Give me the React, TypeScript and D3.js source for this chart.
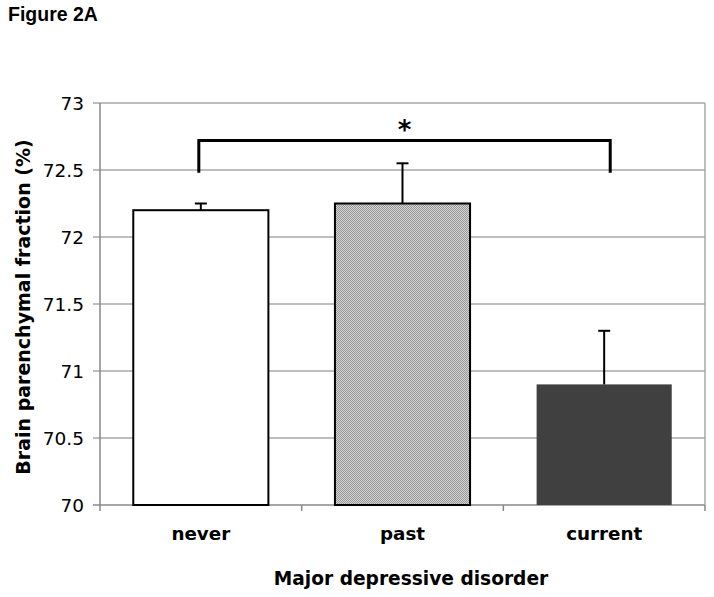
import React from "react";
import * as d3 from "d3";

const categories = ["never", "past", "current"];
const means = [72.2, 72.25, 70.9];
const errors = [0.05, 0.3, 0.4];
const yTicks = [70, 70.5, 71, 71.5, 72, 72.5, 73];
const fills = ["#ffffff", "url(#dither)", "#404040"];
const strokes = ["#000000", "#000000", "none"];
const bracket = { from: "never", to: "current", fromPos: 0.49, toPos: 0.53, top: 72.72, bottom: 72.48, label: "*" };

const W = 714;
const H = 597;
const left = 100;
const right = 705;
const top = 103;
const bottom = 505;

export default function App() {
  const x = d3.scaleBand<string>().domain(categories).range([left, right]).paddingInner(0.33).paddingOuter(0.165);
  const xb = d3.scaleBand<string>().domain(categories).range([left, right]);
  const y = d3.scaleLinear().domain([70, 73]).range([bottom, top]);
  const fmt = (v: number) => (Number.isInteger(v) ? String(v) : v.toFixed(1));
  const bx1 = xb(bracket.from)! + xb.bandwidth() * bracket.fromPos;
  const bx2 = xb(bracket.to)! + xb.bandwidth() * bracket.toPos;

  return (
    <svg width={W} height={H} style={{ position: "absolute", left: 0, top: 0, background: "#fff" }}>
      <defs>
        <pattern id="dither" width="2" height="2" patternUnits="userSpaceOnUse">
          <rect width="2" height="2" fill="#d2d2d2" />
          <rect width="1" height="1" fill="#9a9a9a" />
          <rect x="1" y="1" width="1" height="1" fill="#9a9a9a" />
        </pattern>
      </defs>
      <rect width={W} height={H} fill="#fff" />
      <text x={8} y={21} fontFamily="Liberation Sans, Arial, sans-serif" fontWeight="bold" fontSize={19.5} fill="#000">
        Figure 2A
      </text>

      {/* gridlines */}
      {yTicks.map((t) => (
        <line key={t} x1={left - 7} x2={right} y1={y(t)} y2={y(t)} stroke={t === 70 ? "#888" : "#a8a8a8"} strokeWidth={1.5} />
      ))}
      <line x1={left} x2={left} y1={top} y2={bottom} stroke="#888" strokeWidth={1.5} />
      <line x1={right} x2={right} y1={top} y2={bottom} stroke="#a8a8a8" strokeWidth={1.5} />
      {categories.map((c) => xb(c)!).concat([right]).map((v, i) => (
        <line key={i} x1={v} x2={v} y1={bottom} y2={bottom + 6} stroke="#888" strokeWidth={1.5} />
      ))}

      {/* tick labels */}
      {yTicks.map((t) => (
        <text key={t} x={84} y={y(t) + 7} textAnchor="end" fontFamily="DejaVu Sans, Verdana, sans-serif" fontSize={18.5} fill="#000">
          {fmt(t)}
        </text>
      ))}

      {/* bars */}
      {categories.map((c, i) => (
        <rect
          key={c}
          x={x(c)!}
          y={y(means[i])}
          width={x.bandwidth()}
          height={y(70) - y(means[i])}
          fill={fills[i]}
          stroke={strokes[i]}
          strokeWidth={2}
        />
      ))}

      {/* error bars */}
      {categories.map((c, i) => {
        const cx = x(c)! + x.bandwidth() / 2;
        return (
          <g key={c} stroke="#000" strokeWidth={2}>
            <line x1={cx} x2={cx} y1={y(means[i])} y2={y(means[i] + errors[i])} />
            <line x1={cx - 6} x2={cx + 6} y1={y(means[i] + errors[i])} y2={y(means[i] + errors[i])} />
          </g>
        );
      })}

      {/* significance bracket */}
      <path
        d={`M${bx1},${y(bracket.bottom)}V${y(bracket.top)}H${bx2}V${y(bracket.bottom)}`}
        fill="none"
        stroke="#000"
        strokeWidth={3}
      />
      <text x={(bx1 + bx2) / 2} y={y(bracket.top) - 2} textAnchor="middle" fontFamily="DejaVu Sans, Verdana, sans-serif" fontWeight="bold" fontSize={26} fill="#000">
        {bracket.label}
      </text>

      {/* x labels */}
      {categories.map((c) => (
        <text key={c} x={xb(c)! + xb.bandwidth() / 2} y={540} textAnchor="middle" fontFamily="DejaVu Sans, Verdana, sans-serif" fontWeight="bold" fontSize={18.3} fill="#000">
          {c}
        </text>
      ))}
      <text x={411} y={585} textAnchor="middle" fontFamily="DejaVu Sans, Verdana, sans-serif" fontWeight="bold" fontSize={18.6} fill="#000">
        Major depressive disorder
      </text>
      <text
        transform={`translate(30,307) rotate(-90)`}
        textAnchor="middle"
        fontFamily="DejaVu Sans, Verdana, sans-serif"
        fontWeight="bold"
        fontSize={19}
        fill="#000"
      >
        Brain parenchymal fraction (%)
      </text>
    </svg>
  );
}
